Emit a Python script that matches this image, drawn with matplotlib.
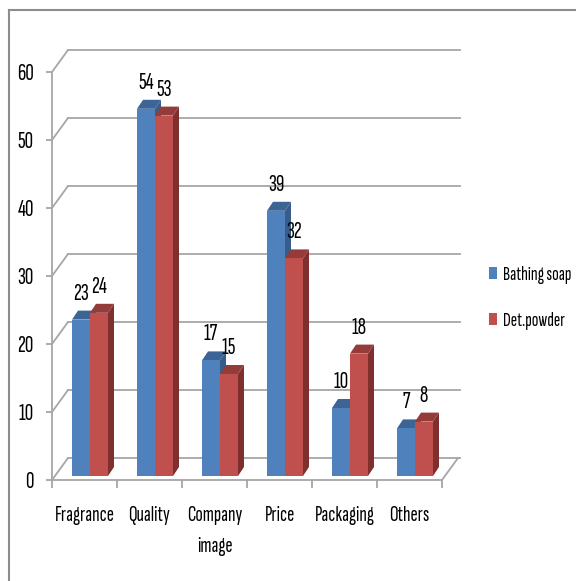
import matplotlib
matplotlib.use("Agg")
import matplotlib.pyplot as plt
from matplotlib.patches import Polygon
from matplotlib.lines import Line2D
import numpy as np

categories = ["Fragrance", "Quality", "Company\nimage", "Price", "Packaging", "Others"]
series_names = ["Bathing soap", "Det.powder"]
bathing_soap = [23, 54, 17, 39, 10, 7]
det_powder = [24, 53, 15, 32, 18, 8]
y_ticks = [0, 10, 20, 30, 40, 50, 60]

FONT = ["Sofia Sans Extra Condensed", "Fira Sans Extra Condensed", "DejaVu Sans"]
plt.rcParams["font.family"] = FONT
FS = 15.5

W, H = 576, 581
fig = plt.figure(figsize=(W / 100, H / 100), dpi=100)

px_x = 65.0   # pixels per category
px_y = 6.8    # pixels per unit
xmax, ymax = 6.5, 66
ax = fig.add_axes([52 / W, (H - 480) / H, xmax * px_x / W, ymax * px_y / H])
ax.set_xlim(0, xmax)
ax.set_ylim(0, ymax)
ax.patch.set_visible(False)

grid_c = "#A6A6A6"
DX, DY = 16 / px_x, 22 / px_y       # wall depth
n = len(categories)

# back wall gridlines and side-wall diagonals
for g in y_ticks:
    ax.add_line(Line2D([DX, n + DX + 0.03], [g + DY, g + DY], color=grid_c, lw=1.3, zorder=1))
    ax.add_line(Line2D([0, DX], [g, g + DY], color=grid_c, lw=1.3, zorder=1))
# floor right edge
ax.add_line(Line2D([n, n + DX], [0, DY], color=grid_c, lw=1.3, zorder=1))

# bars
f0x, f0y = 0.0, 4 / px_y           # shift of bar front face (depth)
bw = 18 / px_x
off = 20 / px_x
BDX, BDY = 6 / px_x, 9 / px_y
colors = [("#4F81BD", "#3C6596", "#385D8A"), ("#C0504D", "#933C3A", "#7F302E")]
x = np.arange(n)

for s, vals in enumerate([bathing_soap, det_powder]):
    front, top, side = colors[s]
    left = x + off + s * bw + f0x
    z = 3 + s * 3
    ax.bar(left, vals, width=bw, bottom=f0y, align="edge", color=front,
           edgecolor="none", zorder=z + 2, label=series_names[s])
    for l, v in zip(left, vals):
        t = v + f0y
        ax.add_patch(Polygon([(l, t), (l + bw, t), (l + bw + BDX, t + BDY), (l + BDX, t + BDY)],
                             closed=True, facecolor=top, edgecolor="none", zorder=z + 1))
        ax.add_patch(Polygon([(l + bw, f0y), (l + bw, t), (l + bw + BDX, t + BDY), (l + bw + BDX, f0y + BDY)],
                             closed=True, facecolor=side, edgecolor="none", zorder=z))
        ax.text(l + bw / 2, t + 26 / px_y, str(v), ha="center", va="center",
                fontsize=FS + 1.5, color="black", zorder=10)

# axes styling
for sp in ["top", "right"]:
    ax.spines[sp].set_visible(False)
ax.spines["left"].set_bounds(0, 60)
ax.spines["bottom"].set_bounds(0, n)
for sp in ["left", "bottom"]:
    ax.spines[sp].set_color(grid_c)
    ax.spines[sp].set_linewidth(1.3)

ax.set_yticks(y_ticks)
ax.set_yticklabels([str(t) for t in y_ticks])
ax.tick_params(axis="y", length=4, width=1.3, color=grid_c, pad=9, labelsize=FS + 1.5)

ax.set_xticks(np.arange(n + 1))
ax.set_xticklabels([])
ax.set_xticks(x + 0.5, minor=True)
ax.set_xticklabels(categories, minor=True, fontsize=FS, linespacing=1.75)
ax.tick_params(axis="x", which="major", length=6, width=1.3, color=grid_c)
ax.tick_params(axis="x", which="minor", length=0, pad=19)

# legend
leg = fig.legend(loc="center left", bbox_to_anchor=(489 / W, (H - 298) / H),
                 frameon=False, fontsize=14, handlelength=0.42, handleheight=0.55,
                 handletextpad=0.3, labelspacing=1.45, borderpad=0, borderaxespad=0)

# chart border (top and left visible)
fig.add_artist(Line2D([9 / W, 9 / W], [0, 1 - 10 / H], transform=fig.transFigure, color="#8C8C8C", lw=1.5))
fig.add_artist(Line2D([9 / W, 1], [1 - 10 / H, 1 - 10 / H], transform=fig.transFigure, color="#8C8C8C", lw=1.5))

fig.savefig("out.png", dpi=100)
